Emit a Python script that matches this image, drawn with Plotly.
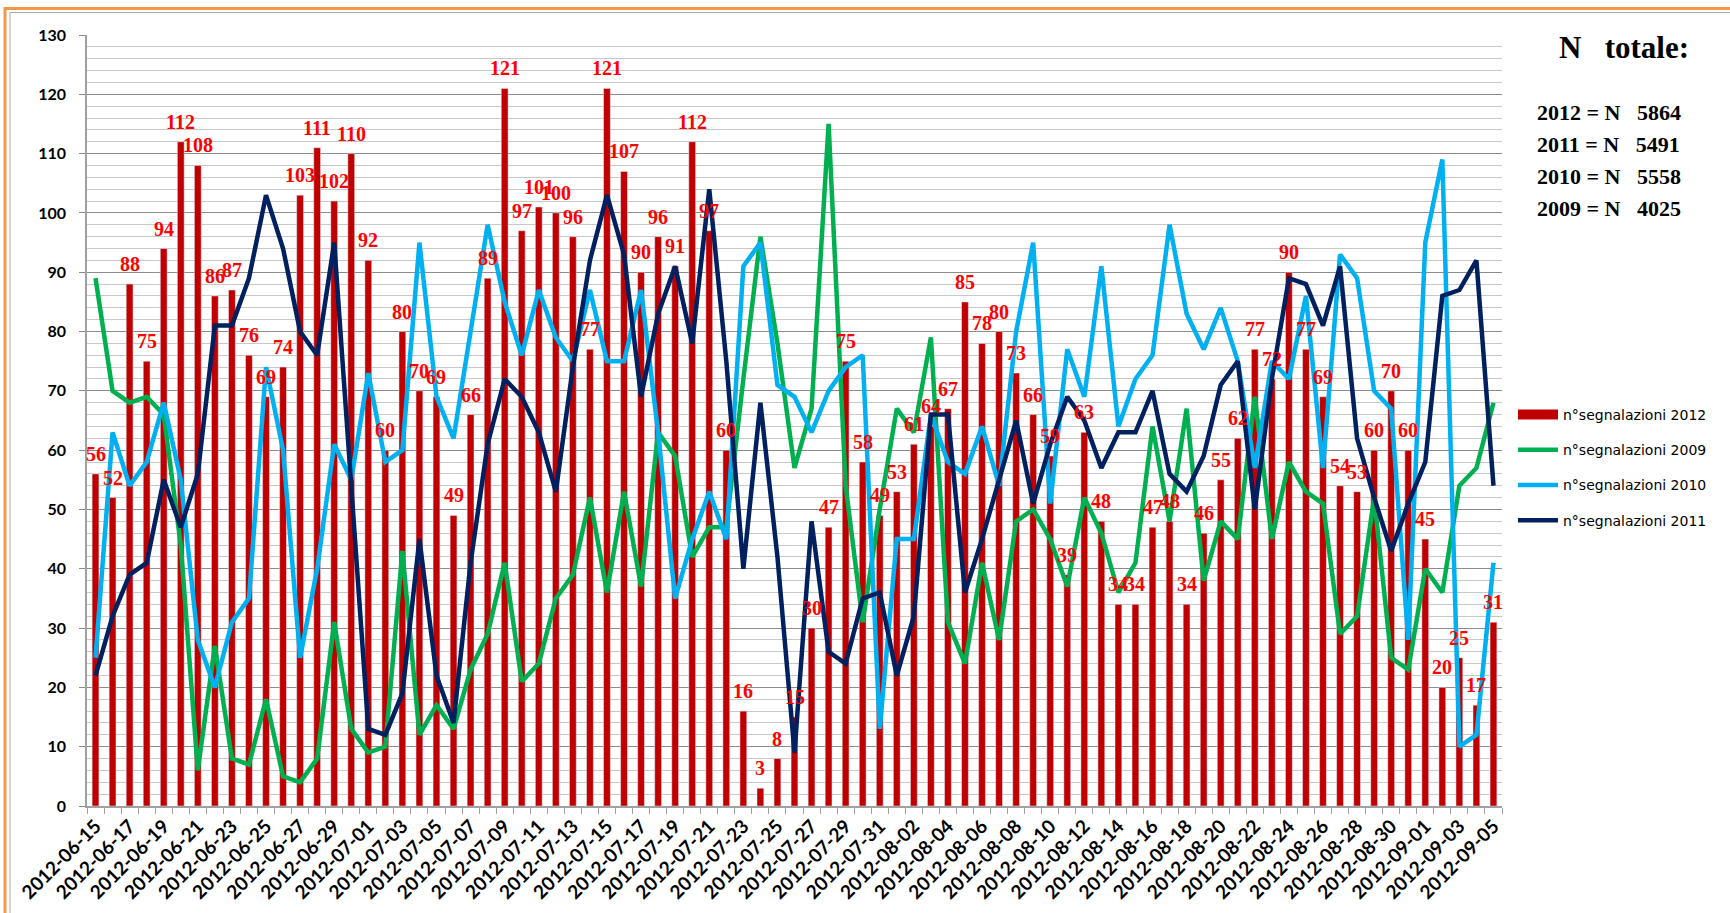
import pandas as pd
import plotly.graph_objects as go

# ---------------- data ----------------
dates = [d.strftime("%Y-%m-%d") for d in pd.date_range("2012-06-15", "2012-09-05", freq="D")]
tick_text = [d if i % 2 == 0 else "" for i, d in enumerate(dates)]

v2012 = [56, 52, 88, 75, 94, 112, 108, 86, 87, 76, 69, 74, 103, 111, 102, 110,
         92, 60, 80, 70, 69, 49, 66, 89, 121, 97, 101, 100, 96, 77, 121, 107, 90, 96, 91, 112,
         97, 60, 16, 3, 8, 15, 30, 47, 75, 58, 49,
         53, 61, 64, 67, 85, 78, 80, 73, 66, 59, 39, 63, 48, 34, 34, 47, 48, 34, 46, 55,
         62, 77, 72, 90, 77, 69, 54, 53, 60, 70, 60,
         45, 20, 25, 17, 31]

v2009 = [89, 70, 68, 69, 66, 44, 6, 27, 8, 7, 18, 5, 4, 8, 31, 13,
         9, 10, 43, 12, 17, 13, 23, 29, 41, 21, 24, 35, 39, 52, 36, 53, 37, 63, 59, 42,
         47, 47, 72, 96, 78, 57, 67, 115, 54, 31, 50,
         67, 63, 79, 31, 24, 41, 28, 48, 50, 45, 37, 52, 46, 36, 41, 64, 48, 67, 38, 48,
         45, 69, 45, 58, 53, 51, 29, 32, 52, 25, 23,
         40, 36, 54, 57, 68]

v2010 = [25, 63, 54, 58, 68, 55, 28, 20, 31, 35, 74, 60, 25, 40, 61, 55,
         73, 58, 60, 95, 69, 62, 80, 98, 85, 76, 87, 79, 75, 87, 75, 75, 87, 63, 35, 45,
         53, 45, 91, 95, 71, 69, 63, 70, 74, 76, 13,
         45, 45, 66, 58, 56, 64, 54, 80, 95, 51, 77, 69, 91, 64, 72, 76, 98, 83, 77, 84,
         75, 57, 75, 72, 86, 57, 93, 89, 70, 67, 28,
         95, 109, 10, 12, 41]

v2011 = [22, 32, 39, 41, 55, 47, 56, 81, 81, 89, 103, 94, 80, 76, 95, 55,
         13, 12, 19, 45, 22, 14, 41, 61, 72, 69, 63, 53, 74, 92, 103, 93, 69, 83, 91, 78,
         104, 75, 40, 68, 42, 9, 48, 26, 24, 35, 36,
         22, 32, 66, 66, 36, 45, 55, 65, 51, 61, 69, 65, 57, 63, 63, 70, 56, 53, 59, 71,
         75, 50, 72, 89, 88, 81, 91, 62, 52, 43, 51,
         58, 86, 87, 92, 54]

series_names = ["n°segnalazioni 2012", "n°segnalazioni 2009",
                "n°segnalazioni 2010", "n°segnalazioni 2011"]
totals_title = "N\u00a0\u00a0\u00a0totale:"
totals = [("2012", 5864), ("2011", 5491), ("2010", 5558), ("2009", 4025)]

# ---------------- geometry helpers ----------------
W, H = 1730, 913
L, R, T, B = 87, 1502, 34.5, 806.5


def px2x(px):
    return (px - L) / (R - L)


def py2y(py):
    return (B - py) / (B - T)


RED = "#C00000"
GREEN = "#00B050"
LBLUE = "#00B0F0"
NAVY = "#002060"
LW = 4.5

fig = go.Figure()

fig.add_trace(go.Bar(x=dates, y=v2012, marker_color=RED, width=0.4,
                     name=series_names[0], showlegend=False))
# legend-only entry for the bar series (wide swatch)
fig.add_trace(go.Scatter(x=[None], y=[None], mode="lines", name=series_names[0],
                         line=dict(color=RED, width=12), legendgroup="a"))
fig.add_trace(go.Scatter(x=dates, y=v2009, mode="lines", name=series_names[1],
                         line=dict(color=GREEN, width=LW), legendgroup="b"))
fig.add_trace(go.Scatter(x=dates, y=v2010, mode="lines", name=series_names[2],
                         line=dict(color=LBLUE, width=LW), legendgroup="c"))
fig.add_trace(go.Scatter(x=dates, y=v2011, mode="lines", name=series_names[3],
                         line=dict(color=NAVY, width=LW), legendgroup="d"))

annotations = []
for d, v in zip(dates, v2012):
    annotations.append(dict(x=d, y=v, xref="x", yref="y", text=str(v), showarrow=False,
                            yanchor="bottom", yshift=7,
                            font=dict(family="Liberation Serif", size=20, color="#FF0000",
                                      weight="bold")))

annotations.append(dict(x=px2x(1557), y=py2y(47), xref="paper", yref="paper",
                        text=totals_title, showarrow=False, xanchor="left", yanchor="middle",
                        font=dict(family="Liberation Serif", size=31, color="black",
                                  weight="bold")))
for i, (yr, n) in enumerate(totals):
    annotations.append(dict(x=px2x(1535), y=py2y(112 + 32 * i), xref="paper", yref="paper",
                            text=f"{yr} = N\u00a0\u00a0\u00a0{n}", showarrow=False,
                            xanchor="left", yanchor="middle",
                            font=dict(family="Liberation Serif", size=22, color="black",
                                      weight="bold")))

shapes = [
    dict(type="rect", xref="paper", yref="paper",
         x0=px2x(5), x1=px2x(1745), y0=py2y(8), y1=py2y(930),
         line=dict(color="#F79646", width=3), layer="above"),
    dict(type="rect", xref="paper", yref="paper",
         x0=px2x(10), x1=px2x(1745), y0=py2y(12), y1=py2y(930),
         line=dict(color="#A6A6A6", width=1), layer="above"),
]

fig.update_layout(
    width=W, height=H, autosize=False,
    margin=dict(l=L, r=W - R, t=T, b=H - B, pad=0, autoexpand=False),
    paper_bgcolor="white", plot_bgcolor="white",
    annotations=annotations,
    shapes=shapes,
    legend=dict(xref="container", yref="container", x=1513 / W, y=1 - 399 / H,
                xanchor="left", yanchor="top",
                font=dict(family="DejaVu Sans", size=14, color="black"),
                tracegroupgap=14, itemwidth=40, bgcolor="rgba(0,0,0,0)"),
    showlegend=True,
)

fig.update_xaxes(type="category", tickmode="array", tickvals=dates, ticktext=tick_text,
                 tickangle=-45, tickson="boundaries", ticks="outside", ticklen=6,
                 tickcolor="#A0A0A0", showgrid=False, showline=True, linecolor="#A0A0A0",
                 linewidth=1.5, range=[-0.5, len(dates) - 0.5], automargin=False,
                 tickfont=dict(family="Lato", size=19, color="black", weight="bold"))
fig.update_yaxes(range=[0, 130], dtick=10, tick0=0, showgrid=True, gridcolor="#8C8C8C",
                 gridwidth=1, ticks="outside", ticklen=6, tickcolor="#8C8C8C",
                 showline=True, linecolor="#A0A0A0", linewidth=1.5, zeroline=False,
                 ticklabelstandoff=10, automargin=False,
                 minor=dict(dtick=2, tick0=0, showgrid=True, gridcolor="#C8C8C8", gridwidth=1,
                            ticks=""),
                 tickfont=dict(family="Lato", size=16, color="black", weight="bold"))

fig.write_html("out.html", config={"displayModeBar": False},
               post_script="document.body.style.margin='0';")
